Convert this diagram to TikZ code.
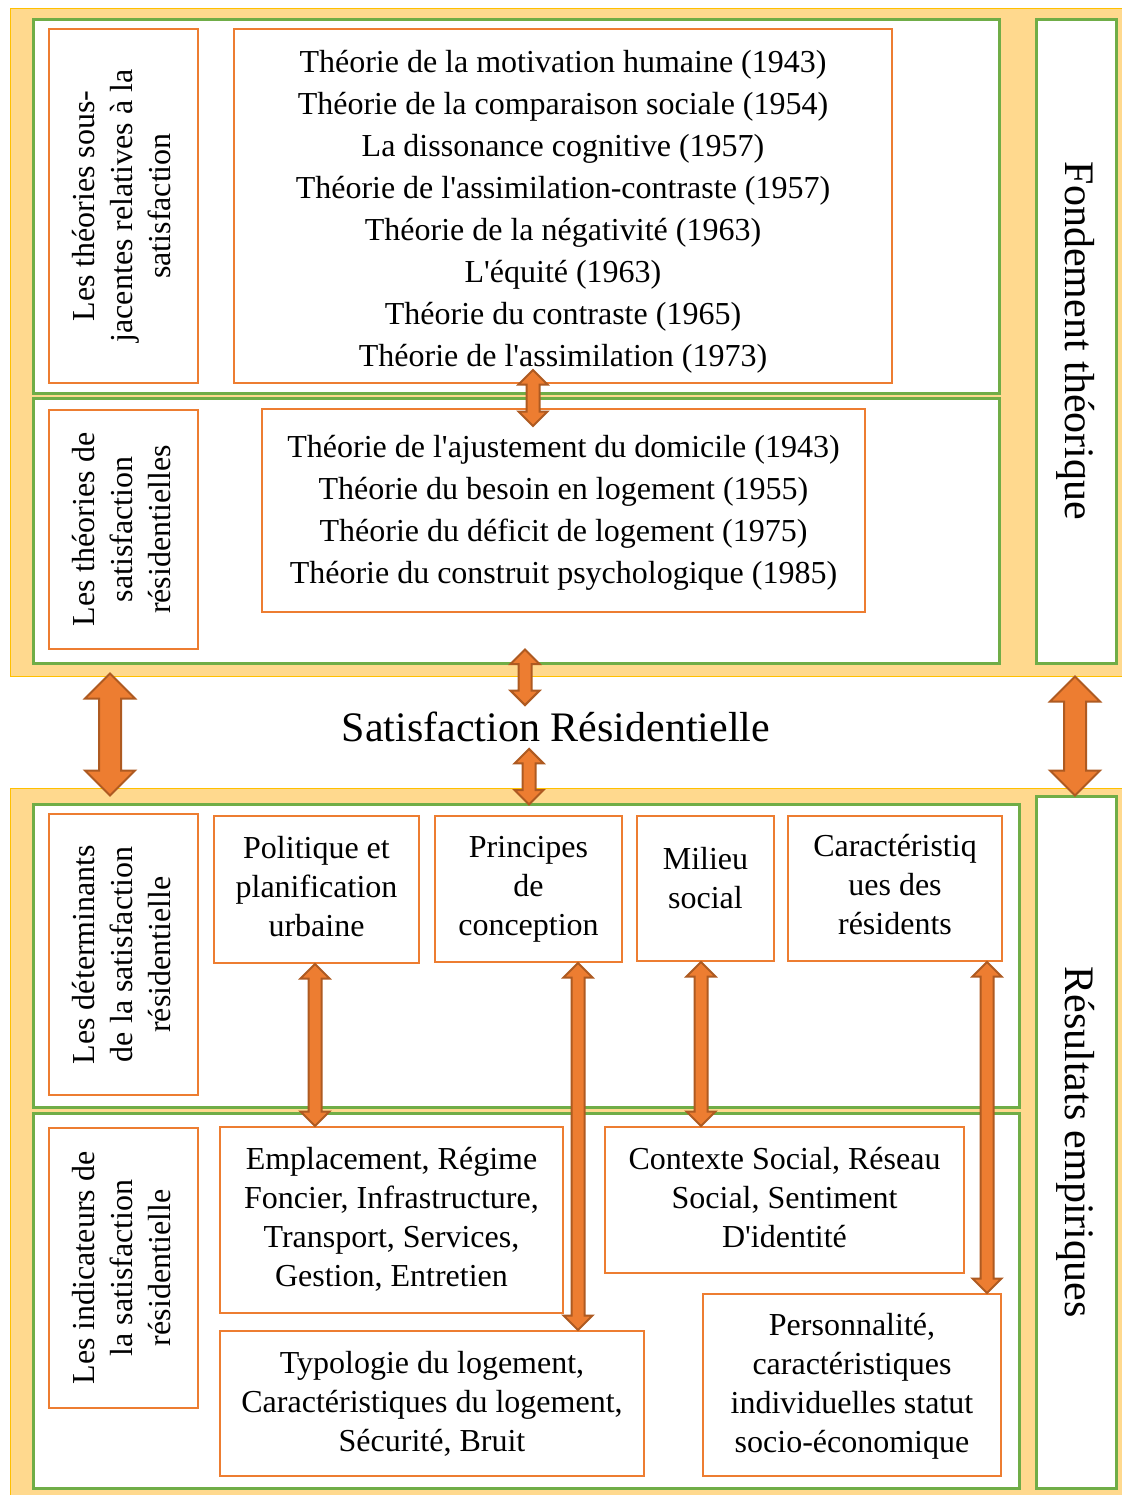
\documentclass[tikz,border=0pt]{standalone}
\usepackage{fontspec}
\setmainfont{Liberation Serif}
\usepackage{tikz}
\usetikzlibrary{calc,fit,shapes.arrows}
\definecolor{orgline}{RGB}{237,125,49}
\definecolor{arrdark}{RGB}{174,90,33}
\definecolor{grnline}{RGB}{112,173,71}
\definecolor{bandfill}{RGB}{255,217,142}
\definecolor{bandline}{RGB}{255,192,0}
\newcommand{\apos}{\textquotesingle}
\newcommand{\txtmain}{\fontsize{16}{19.5}\selectfont}
\newcommand{\txtlist}{\fontsize{16}{21}\selectfont}
\newcommand{\txtbig}{\fontsize{21}{25}\selectfont}
% vertical double arrow between two points at a given x
\newcommand{\vlink}[4]{%
  \path let \p1=(#2), \p2=(#3), \p3=(#1,0) in
    node[#4, minimum height={\y1-\y2}] at (\x3,{(\y1+\y2)/2}) {};}

\begin{document}
\begin{tikzpicture}[x=0.5pt,y=-0.5pt,
  band/.style={draw=bandline, fill=bandfill, line width=0.5pt, inner sep=0pt},
  gbox/.style={draw=grnline, fill=white, line width=1.5pt, inner sep=0pt},
  obox/.style={draw=orgline, fill=white, line width=1pt, inner sep=0pt},
  txt/.style={align=center, font=\txtmain, inner sep=0pt},
  lst/.style={align=center, font=\txtlist, inner sep=0pt},
  side/.style={txt, rotate=90, font=\fontsize{16}{19}\selectfont},
  bigtxt/.style={font=\txtbig, inner sep=0pt},
  bigarr/.style={double arrow, draw=arrdark, fill=orgline, line width=1pt,
    shape border rotate=90, inner sep=5pt, double arrow head extend=7pt, minimum width=0pt},
  smallarr/.style={double arrow, draw=arrdark, fill=orgline, line width=1pt,
    shape border rotate=90, inner sep=2.75pt, double arrow head extend=4pt, minimum width=0pt}]
  \useasboundingbox (0,0) rectangle (1122,1495);
  % yellow bands
  \node[band, fit={(10,8) (1126,676)}] (topband) {};
  \node[band, fit={(10,788) (1126,1502)}] (botband) {};
  % green frames
  \node[gbox, fit={(33,19) (999,393)}] (subg) {};
  \node[gbox, fit={(33,398) (999,663)}] (resthg) {};
  \node[gbox, fit={(1036,19) (1116,663)}] (fondg) {};
  \node[bigtxt, rotate=-90] (fondg-t) at (fondg.center) {Fondement théorique};
  \node[gbox, fit={(33,804) (1019,1107)}] (detg) {};
  \node[gbox, fit={(33,1113) (1019,1488)}] (indg) {};
  \node[gbox, fit={(1036,796) (1116,1488)}] (resg) {};
  \node[bigtxt, rotate=-90] (resg-t) at (resg.center) {Résultats empiriques};
  % theories
  \node[obox, fit={(49,29) (198,383)}] (sublbl) {};
  \node[side] (sublbl-t) at ($(sublbl.center)+(-2,0)$)
    {Les théories sous-\\jacentes relatives à la\\satisfaction};
  \node[obox, fit={(234,29) (892,383)}] (theo) {};
  \node[lst] (theo-t) at ($(theo.center)+(0,6)$)
    {Théorie de la motivation humaine (1943)\\
     Théorie de la comparaison sociale (1954)\\
     La dissonance cognitive (1957)\\
     Théorie de l\apos assimilation-contraste (1957)\\
     Théorie de la négativité (1963)\\
     L\apos équité (1963)\\
     Théorie du contraste (1965)\\
     Théorie de l\apos assimilation (1973)};
  \node[obox, fit={(49,410) (198,649)}] (reslbl) {};
  \node[side] (reslbl-t) at ($(reslbl.center)+(-2,0)$)
    {Les théories de\\satisfaction\\résidentielles};
  \node[obox, fit={(262,409) (865,612)}] (resth) {};
  \node[lst] (resth-t) at ($(resth.center)+(0,2)$)
    {Théorie de l\apos ajustement du domicile (1943)\\
     Théorie du besoin en logement (1955)\\
     Théorie du déficit de logement (1975)\\
     Théorie du construit psychologique (1985)};
  % centre
  \node[bigtxt, minimum height=21.5pt] (sat) at (556,727) {Satisfaction Résidentielle};
  % determinants
  \node[obox, fit={(49,814) (198,1095)}] (detlbl) {};
  \node[side] (detlbl-t) at ($(detlbl.center)+(-2,0)$)
    {Les déterminants\\de la satisfaction\\résidentielle};
  \node[obox, fit={(214,816) (419,963)}] (pol) {};
  \node[txt] (pol-t) at ($(pol.center)+(0,-3)$) {Politique et\\planification\\urbaine};
  \node[obox, fit={(435,816) (622,962)}] (prin) {};
  \node[txt] (prin-t) at (prin.center) {Principes\\de\\conception};
  \node[obox, fit={(637,816) (774,961)}] (mil) {};
  \node[txt] (mil-t) at ($(mil.center)+(0,-10)$) {Milieu\\social};
  \node[obox, fit={(788,816) (1002,961)}] (car) {};
  \node[txt] (car-t) at ($(car.center)+(0,-4)$) {Caractéristiq\\ues des\\résidents};
  % indicators
  \node[obox, fit={(49,1128) (198,1408)}] (indlbl) {};
  \node[side] (indlbl-t) at ($(indlbl.center)+(-2,0)$)
    {Les indicateurs de\\la satisfaction\\résidentielle};
  \node[obox, fit={(220,1127) (563,1313)}] (empl) {};
  \node[txt] (empl-t) at ($(empl.center)+(0,-1)$)
    {Emplacement, Régime\\Foncier, Infrastructure,\\Transport, Services,\\Gestion, Entretien};
  \node[obox, fit={(605,1127) (964,1273)}] (ctx) {};
  \node[txt] (ctx-t) at ($(ctx.center)+(0,-2)$)
    {Contexte Social, Réseau\\Social, Sentiment\\D\apos identité};
  \node[obox, fit={(220,1331) (644,1476)}] (typo) {};
  \node[txt] (typo-t) at (typo.center)
    {Typologie du logement,\\Caractéristiques du logement,\\Sécurité, Bruit};
  \node[obox, fit={(703,1294) (1001,1476)}] (pers) {};
  \node[txt] (pers-t) at ($(pers.center)+(0,1)$)
    {Personnalité,\\caractéristiques\\individuelles statut\\socio-économique};
  % arrows
  \vlink{110}{$(topband.south)+(0,-3)$}{$(botband.north)+(0,8)$}{bigarr}
  \vlink{1075}{topband.south}{$(resg.north)+(0,1)$}{bigarr}
  \vlink{533}{$(theo.south)+(0,-14)$}{$(resth.north)+(0,18)$}{smallarr}
  \vlink{525}{$(resthg.south)+(0,-15)$}{sat.north}{smallarr}
  \vlink{529}{sat.south}{$(detg.north)+(0,2)$}{smallarr}
  \vlink{315}{pol.south}{empl.north}{smallarr}
  \vlink{578}{prin.south}{typo.north}{smallarr}
  \vlink{701}{mil.south}{ctx.north}{smallarr}
  \vlink{987}{car.south}{pers.north}{smallarr}
\end{tikzpicture}
\end{document}
